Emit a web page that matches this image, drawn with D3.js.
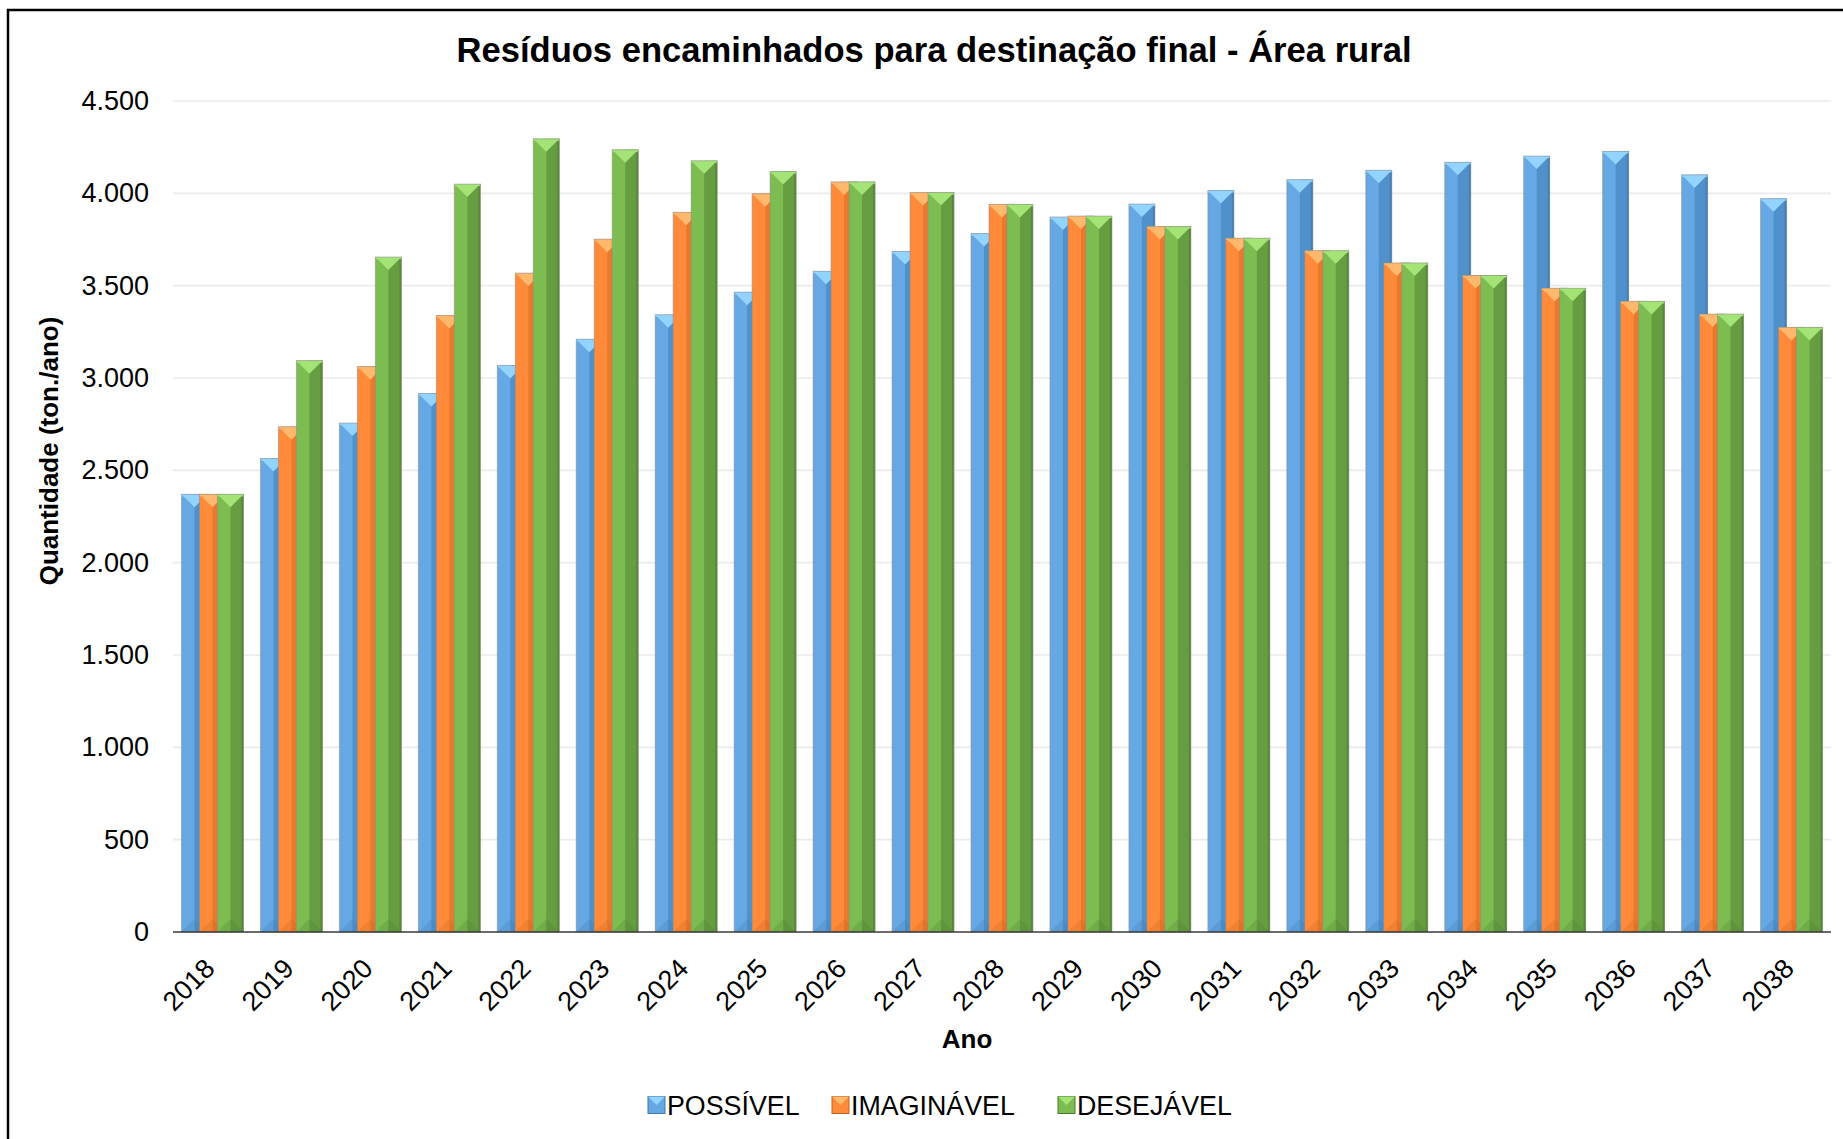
<!DOCTYPE html>
<html>
<head>
<meta charset="utf-8">
<script src="https://cdn.jsdelivr.net/npm/d3@7/dist/d3.min.js"></script>
<style>
  html, body { margin: 0; padding: 0; background: #ffffff; }
  svg { display: block; font-family: "Liberation Sans", Arial, Helvetica, sans-serif; }
</style>
</head>
<body>
<svg id="chart" width="1843" height="1139"></svg>
<script>
// Anos do horizonte de planejamento
const years = ["2018","2019","2020","2021","2022","2023","2024","2025","2026","2027",
  "2028","2029","2030","2031","2032","2033","2034","2035","2036","2037","2038"];

// Quantidade encaminhada para destinação final (ton./ano), por cenário
const possivel = [2370, 2564, 2756, 2916, 3068, 3210, 3342, 3465, 3578, 3685,
  3782, 3872, 3942, 4015, 4074, 4125, 4168, 4202, 4227, 4100, 3971];
const imaginavel = [2370, 2736, 3062, 3338, 3568, 3752, 3897, 3998, 4062, 4004,
  3940, 3877, 3820, 3757, 3689, 3623, 3555, 3486, 3415, 3346, 3274];
const desejavel = [2370, 3094, 3655, 4050, 4295, 4236, 4176, 4118, 4062, 4004,
  3940, 3877, 3820, 3757, 3689, 3623, 3555, 3486, 3415, 3346, 3274];

const seriesNames = ["POSSÍVEL", "IMAGINÁVEL", "DESEJÁVEL"];
const yTicks = [0, 500, 1000, 1500, 2000, 2500, 3000, 3500, 4000, 4500];

// Paleta: tom base, face direita (sombra), chanfro superior (brilho)
const palette = [
  { base: "#66a8e4", dark: "#5090cb", light: "#92d4ff", edge: "#3f77ab" },
  { base: "#ff8b3a", dark: "#e97a2d", light: "#ffb86c", edge: "#c4621d" },
  { base: "#7dbc50", dark: "#669d41", light: "#a4e476", edge: "#4c7a2e" }
];

const seriesData = [possivel, imaginavel, desejavel];

const svg = d3.select("#chart");
const W = 1843, H = 1139;
const plot = { left: 173, right: 1831, top: 101, bottom: 932 };

// Moldura do gráfico
svg.append("rect")
  .attr("x", 8).attr("y", 10)
  .attr("width", W + 20).attr("height", H + 20)
  .attr("fill", "#ffffff")
  .attr("stroke", "#000000").attr("stroke-width", 2.5);

const x = d3.scaleBand()
  .domain(years)
  .range([plot.left, plot.right])
  .paddingInner(0.215)
  .paddingOuter(0.1075);

const y = d3.scaleLinear()
  .domain([0, 4500])
  .range([plot.bottom, plot.top]);

// Linhas de grade horizontais
svg.append("g")
  .selectAll("line")
  .data(yTicks.filter(d => d > 0))
  .join("line")
  .attr("x1", plot.left).attr("x2", plot.right)
  .attr("y1", d => y(d)).attr("y2", d => y(d))
  .attr("stroke", "#ebebeb").attr("stroke-width", 1.6);

// Eixo Y (apenas rótulos)
const fmt = d3.format(",");
const yAxis = d3.axisLeft(y)
  .tickValues(yTicks)
  .tickSize(0)
  .tickPadding(0)
  .tickFormat(d => fmt(d).replace(/,/g, "."));

const gy = svg.append("g")
  .attr("transform", `translate(${plot.left - 24},0)`)
  .call(yAxis);
gy.select(".domain").remove();
gy.selectAll("text")
  .attr("font-size", 27)
  .attr("fill", "#000000")
  .attr("font-family", "'Liberation Sans', Arial, sans-serif");

// Barras com efeito de chanfro
const n = seriesData.length;
const groupW = x.bandwidth();
const barW = groupW * 0.42;
const stepW = (groupW - barW) / (n - 1);

const bars = svg.append("g");
seriesData.forEach((vals, si) => {
  const c = palette[si];
  const g = bars.append("g").attr("class", "series-" + si);
  const items = g.selectAll("g.bar")
    .data(years.map((yr, i) => ({ yr, v: vals[i] })))
    .join("g")
    .attr("class", "bar");

  items.each(function (d) {
    const bx = x(d.yr) + si * stepW;
    const by = y(d.v);
    const bh = y(0) - by;
    const sel = d3.select(this);
    const tri = barW * 0.5;

    sel.append("rect")
      .attr("x", bx).attr("y", by)
      .attr("width", barW).attr("height", bh)
      .attr("fill", c.base);
    sel.append("rect")
      .attr("x", bx + barW * 0.5).attr("y", by)
      .attr("width", barW * 0.5).attr("height", bh)
      .attr("fill", c.dark);
    sel.append("rect")
      .attr("x", bx + barW - 2).attr("y", by)
      .attr("width", 2).attr("height", bh)
      .attr("fill", c.edge).attr("opacity", 0.6);
    // chanfro superior
    sel.append("polygon")
      .attr("points", [[bx, by], [bx + barW, by], [bx + barW * 0.5, by + tri]].join(" "))
      .attr("fill", c.light);
    sel.append("rect")
      .attr("x", bx).attr("y", by)
      .attr("width", barW).attr("height", 2)
      .attr("fill", c.light);
    // chanfro inferior
    sel.append("polygon")
      .attr("points", [[bx, by + bh], [bx + barW, by + bh], [bx + barW * 0.5, by + bh - tri]].join(" "))
      .attr("fill", c.edge).attr("opacity", 0.25);
    // contorno
    sel.append("rect")
      .attr("x", bx).attr("y", by)
      .attr("width", barW).attr("height", bh)
      .attr("fill", "none")
      .attr("stroke", "#8c8c8c").attr("stroke-opacity", 0.55).attr("stroke-width", 1);
  });
});

// Linha de base
svg.append("line")
  .attr("x1", plot.left).attr("x2", plot.right)
  .attr("y1", y(0)).attr("y2", y(0))
  .attr("stroke", "#3a3a3a").attr("stroke-width", 1.6);

// Eixo X: rótulos inclinados
const xAxis = d3.axisBottom(x).tickSize(0).tickPadding(0);
const gx = svg.append("g")
  .attr("transform", `translate(0,${plot.bottom})`)
  .call(xAxis);
gx.select(".domain").remove();
gx.selectAll("text")
  .attr("font-size", 27)
  .attr("fill", "#000000")
  .attr("font-family", "'Liberation Sans', Arial, sans-serif")
  .attr("text-anchor", "end")
  .attr("dy", 0)
  .attr("transform", "translate(4,38) rotate(-45)");

// Título
svg.append("text")
  .attr("x", 934).attr("y", 62)
  .attr("text-anchor", "middle")
  .attr("font-size", 34.6).attr("font-weight", "bold")
  .attr("fill", "#000000")
  .text("Resíduos encaminhados para destinação final - Área rural");

// Títulos dos eixos
svg.append("text")
  .attr("transform", "translate(58,451) rotate(-90)")
  .attr("text-anchor", "middle")
  .attr("font-size", 26).attr("font-weight", "bold")
  .text("Quantidade (ton./ano)");

svg.append("text")
  .attr("x", 967).attr("y", 1048)
  .attr("text-anchor", "middle")
  .attr("font-size", 26).attr("font-weight", "bold")
  .text("Ano");

// Legenda
const legendX = [648, 832, 1058];
const legendY = 1105;
const mk = 17;
const legend = svg.append("g");
seriesNames.forEach((name, i) => {
  const c = palette[i];
  const lx = legendX[i];
  const g = legend.append("g");
  g.append("rect")
    .attr("x", lx).attr("y", legendY - mk / 2)
    .attr("width", mk).attr("height", mk)
    .attr("fill", c.base)
    .attr("stroke", c.edge).attr("stroke-width", 1);
  g.append("polygon")
    .attr("points", [[lx, legendY - mk / 2], [lx + mk, legendY - mk / 2], [lx + mk / 2, legendY]].join(" "))
    .attr("fill", c.light);
  g.append("text")
    .attr("x", lx + mk + 2).attr("y", legendY)
    .attr("dy", "0.36em")
    .attr("font-size", 26.8)
    .attr("fill", "#000000")
    .text(name);
});
</script>
</body>
</html>
